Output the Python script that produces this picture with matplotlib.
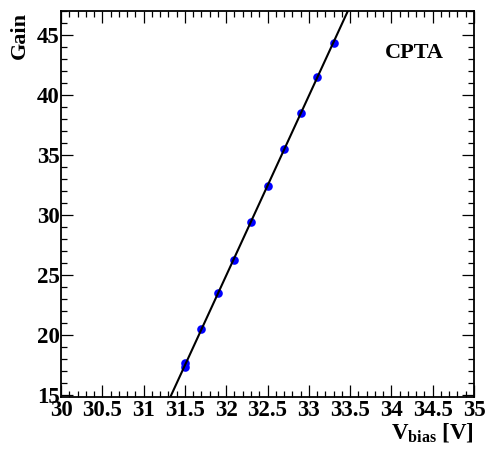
import numpy as np
import matplotlib
matplotlib.use("Agg")
import matplotlib.pyplot as plt
from matplotlib.ticker import MultipleLocator

# Data
v_bias = [31.5, 31.5, 31.7, 31.9, 32.1, 32.3, 32.5, 32.7, 32.9, 33.1, 33.3]
gain = [17.6, 17.3, 20.5, 23.5, 26.2, 29.4, 32.4, 35.5, 38.5, 41.5, 44.3]

x_ticks = [30, 30.5, 31, 31.5, 32, 32.5, 33, 33.5, 34, 34.5, 35]
x_tick_labels = ["30", "30.5", "31", "31.5", "32", "32.5", "33", "33.5", "34", "34.5", "35"]
y_ticks = [15, 20, 25, 30, 35, 40, 45]

plt.rcParams['font.family'] = ['Liberation Serif', 'DejaVu Serif']
plt.rcParams['mathtext.fontset'] = 'custom'
plt.rcParams['mathtext.rm'] = 'Liberation Serif:bold'
plt.rcParams['mathtext.bf'] = 'Liberation Serif:bold'

fig = plt.figure(figsize=(4.86, 4.5), dpi=100)
ax = fig.add_axes([61 / 486, 53 / 450, 413 / 486, 386 / 450])

# linear fit, drawn across the whole range and clipped by the axes
slope, icpt = np.polyfit(v_bias, gain, 1)
xx = np.linspace(30, 35, 200)
ax.plot(v_bias, gain, 'o', color='#0000ff', ms=6.2, mew=0, zorder=2)
ax.plot(xx, slope * xx + icpt, color='black', lw=1.5, zorder=3)

ax.set_xlim(30, 35)
ax.set_ylim(14.8, 47)
ax.set_xticks(x_ticks)
ax.set_xticklabels(x_tick_labels)
ax.set_yticks(y_ticks)
ax.xaxis.set_minor_locator(MultipleLocator(0.1))
ax.yaxis.set_minor_locator(MultipleLocator(1))
ax.tick_params(which='both', direction='in', top=True, right=True, width=0.9)
ax.tick_params(which='major', length=8.5, labelsize=16.5, pad=2)
ax.tick_params(axis='y', which='major', pad=1)
ax.tick_params(which='minor', length=4.2)
for lbl in ax.get_xticklabels() + ax.get_yticklabels():
    lbl.set_fontweight('bold')
for sp in ax.spines.values():
    sp.set_linewidth(1.3)

ax.set_xlabel(r'V$_{\mathbf{bias}}$ [V]', fontsize=16.5, fontweight='bold', loc='right', labelpad=0)
ax.set_ylabel('Gain', fontsize=16, fontweight='bold', loc='top')
ax.yaxis.set_label_coords(-0.075, 0.997)

ax.text(0.855, 0.89, 'CPTA', transform=ax.transAxes, fontsize=16, fontweight='bold',
        ha='center', va='center')

fig.savefig('out.png', dpi=100)
